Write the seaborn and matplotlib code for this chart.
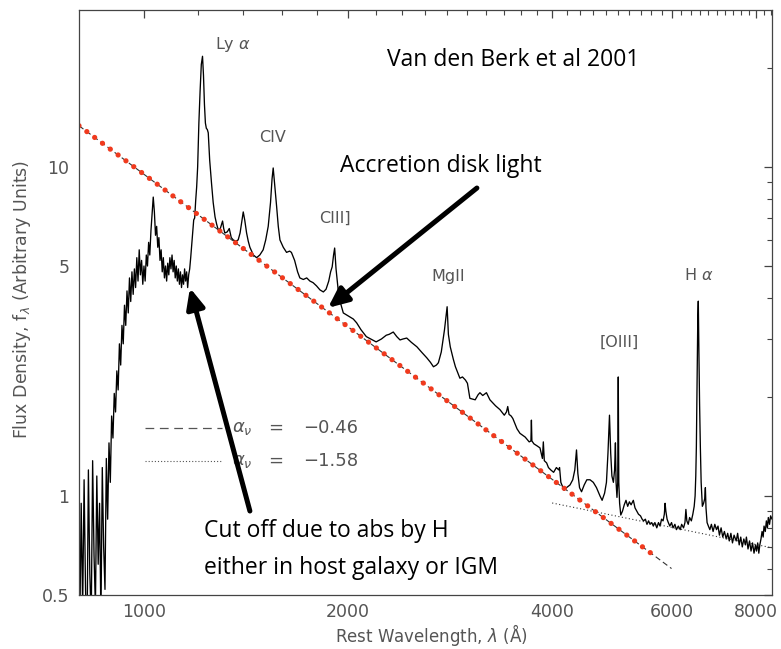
import numpy as np
import pandas as pd
import matplotlib
matplotlib.use("Agg")
import matplotlib.pyplot as plt
import seaborn as sns
from matplotlib.ticker import FixedLocator, FixedFormatter, NullFormatter

# ---------------- data ----------------
# Lyman-alpha forest / absorbed region (Angstrom, arbitrary flux)
lam_uv = [800, 804, 808, 812, 816, 820, 824, 828, 832, 836, 840, 844, 848, 852, 856,
          860, 864, 868, 872, 876, 880, 884, 888, 892, 896, 900, 904, 908, 912, 916,
          920, 924, 928, 932, 936, 940, 944, 948, 952, 956, 960, 964, 968, 972, 976,
          980, 984, 988, 992, 996, 1000, 1004, 1008, 1012, 1016, 1020, 1024, 1028,
          1032, 1036, 1040, 1044, 1048, 1052, 1056, 1060, 1064, 1068, 1072, 1076,
          1080, 1084, 1088, 1092, 1096, 1100, 1104, 1108, 1112, 1116, 1120, 1124,
          1128, 1132, 1136, 1140, 1144, 1148, 1152, 1156, 1160, 1164, 1168, 1172,
          1176, 1180, 1184, 1188, 1192, 1196]
flux_uv = [0.62, 0.38, 0.95, 0.45, 1.12, 0.52, 0.35, 1.20, 0.58, 0.42, 1.28, 0.66, 0.46,
           1.15, 0.62, 0.95, 0.42, 1.22, 0.70, 0.52, 1.30, 0.85, 1.45, 1.10, 1.75, 1.50,
           2.05, 1.80, 2.40, 2.10, 2.90, 2.50, 3.30, 2.90, 3.80, 3.30, 4.20, 3.60, 4.60,
           3.90, 4.80, 4.10, 4.90, 4.30, 5.30, 4.50, 5.60, 4.70, 5.20, 4.40, 5.00, 4.50,
           5.40, 5.00, 5.90, 5.40, 6.40, 7.20, 8.10, 7.30, 6.20, 6.60, 5.70, 6.10, 5.20,
           5.60, 4.80, 5.30, 4.60, 5.00, 4.50, 5.10, 4.70, 5.30, 4.90, 5.40, 4.80, 5.20,
           4.60, 5.00, 4.50, 4.90, 4.40, 4.80, 4.30, 4.70, 4.40, 4.90, 4.50, 4.80, 4.30,
           4.70, 4.90, 5.30, 5.80, 6.30, 6.90, 7.00, 7.90, 8.70]

# Broad emission line region
lam_mid = [1200, 1205, 1210, 1215, 1220, 1224, 1228, 1232, 1236, 1240, 1244, 1250, 1258,
           1265, 1273, 1280, 1287, 1296, 1306, 1311, 1316, 1327, 1336, 1345, 1354, 1366,
           1377, 1386, 1394, 1401, 1408, 1417, 1425, 1433, 1450, 1466, 1482, 1499, 1512,
           1525, 1537, 1545, 1551, 1557, 1569, 1578, 1587, 1605, 1623, 1640, 1650, 1668,
           1685, 1698, 1718, 1738, 1757, 1776, 1797, 1818, 1839, 1856, 1873, 1885, 1895,
           1904, 1911, 1920, 1934, 1950, 1968, 1990, 2013, 2036, 2059, 2090, 2128, 2160,
           2200, 2240, 2277, 2300, 2332, 2360, 2386, 2410, 2441, 2480, 2527, 2570, 2613,
           2645, 2673, 2700, 2718, 2745, 2775, 2800, 2812, 2830, 2860, 2880, 2924, 2950,
           2980, 3000, 3025, 3080, 3110, 3130, 3160, 3200, 3238, 3300, 3350, 3400, 3425,
           3440, 3455, 3480, 3500, 3550, 3586, 3650, 3700, 3722, 3728, 3734, 3760, 3800,
           3838, 3870, 3882, 3895, 3926, 3950, 3981, 4020, 4058, 4090, 4102, 4120, 4165,
           4200, 4250, 4290, 4320, 4345, 4365, 4390, 4420, 4460, 4500, 4549, 4600, 4650,
           4706, 4740, 4780, 4810, 4835, 4860, 4880, 4900, 4925, 4945, 4959, 4970, 4985,
           4998, 5007, 5016, 5030]
flux_mid = [10.0, 13.6, 17.0, 20.5, 21.7, 19.0, 15.5, 13.6, 13.1, 13.0, 12.7, 10.5, 8.9,
            7.8, 7.05, 6.7, 6.44, 6.5, 6.85, 6.5, 6.3, 6.35, 6.5, 6.1, 6.0, 5.95,
            6.0, 6.3, 6.8, 7.3, 6.9, 6.3, 5.95, 5.7, 5.4, 5.3, 5.4, 5.6, 6.0,
            6.6, 7.8, 9.2, 9.93, 9.1, 7.6, 6.6, 6.0, 5.7, 5.5, 5.55, 5.5, 5.2,
            4.8, 4.6, 4.55, 4.6, 4.5, 4.45, 4.35, 4.23, 4.17, 4.25, 4.5, 4.8, 4.97,
            5.4, 5.67, 4.9, 4.23, 3.85, 3.6, 3.55, 3.5, 3.45, 3.36, 3.2, 3.05, 3.0,
            2.94, 3.0, 3.08, 3.1, 3.15, 3.05, 2.98, 3.0, 3.02, 2.93, 2.84, 2.73, 2.63,
            2.55, 2.47, 2.5, 2.54, 2.74, 3.2, 3.76, 3.1, 2.84, 2.6, 2.47, 2.28, 2.3,
            2.25, 2.2, 1.98, 1.96, 2.03, 2.06, 2.02, 2.06, 1.96, 1.88, 1.83, 1.76, 1.8,
            1.87, 1.77, 1.75, 1.72, 1.6, 1.55, 1.51, 1.46, 1.47, 1.70, 1.47, 1.44, 1.42,
            1.40, 1.30, 1.46, 1.28, 1.26, 1.22, 1.2, 1.18, 1.22, 1.2, 1.22, 1.1, 1.04,
            1.06, 1.08, 1.12, 1.2, 1.38, 1.17, 1.06, 1.03, 1.08, 1.12, 1.12, 1.1, 1.06,
            1.0, 0.97, 1.02, 1.1, 1.35, 1.76, 1.35, 1.15, 1.1, 1.2, 1.45, 1.1, 0.99,
            1.1, 2.3, 1.1, 0.95]

# Red / optical region
lam_red = [5050, 5080, 5110, 5140, 5170, 5200, 5230, 5270, 5300, 5330, 5363, 5400, 5430,
           5457, 5490, 5520, 5550, 5578, 5610, 5640, 5670, 5707, 5740, 5771, 5800, 5830,
           5855, 5870, 5885, 5910, 5935, 5965, 6000, 6030, 6069, 6100, 6140, 6180, 6210,
           6250, 6280, 6300, 6320, 6350, 6380, 6418, 6450, 6480, 6500, 6515, 6528, 6540,
           6550, 6560, 6571, 6578, 6585, 6600, 6617, 6635, 6662, 6690, 6715, 6731, 6745,
           6770, 6800, 6834, 6870, 6910, 6950, 6990, 7026, 7060, 7100, 7140, 7180, 7225,
           7260, 7300, 7340, 7380, 7420, 7474, 7510, 7550, 7590, 7630, 7670, 7710, 7737,
           7780, 7820, 7860, 7900, 7940, 7980, 8007, 8040, 8070, 8098, 8130, 8160, 8190,
           8215, 8250, 8280, 8310, 8335, 8370, 8400, 8440]
flux_red = [0.875, 0.90, 0.94, 0.97, 0.93, 0.96, 0.94, 0.97, 0.92, 0.90, 0.88, 0.87, 0.85,
            0.84, 0.85, 0.82, 0.84, 0.82, 0.83, 0.81, 0.83, 0.80, 0.83, 0.81, 0.85, 0.84,
            0.88, 0.95, 0.90, 0.85, 0.83, 0.81, 0.83, 0.80, 0.82, 0.79, 0.81, 0.79, 0.82,
            0.80, 0.83, 0.91, 0.84, 0.82, 0.86, 0.84, 0.88, 0.93, 1.0, 1.15, 1.41, 2.0,
            2.84, 3.5, 3.91, 3.2, 2.7, 1.9, 1.41, 1.1, 0.93, 0.95, 0.98, 1.06, 0.92,
            0.83, 0.81, 0.79, 0.82, 0.78, 0.82, 0.79, 0.81, 0.76, 0.80, 0.75, 0.78, 0.74,
            0.77, 0.73, 0.77, 0.72, 0.76, 0.73, 0.77, 0.71, 0.75, 0.70, 0.74, 0.71, 0.75,
            0.69, 0.73, 0.68, 0.72, 0.67, 0.71, 0.68, 0.72, 0.67, 0.71, 0.74, 0.78, 0.75,
            0.81, 0.78, 0.84, 0.80, 0.86, 0.82, 0.87, 0.85]

# Power-law continua: alpha_nu, reference wavelength & flux, drawn range
alpha_nu = [-0.46, -1.58]
pl_ref_lam = [1000.0, 4000.0]
pl_ref_flux = [9.5, 0.952]
pl_lam_range = [(802.0, 6000.0), (4000.0, 8440.0)]
red_fit_range = (802.0, 5710.0)

line_labels = ["Ly $\\alpha$", "CIV", "CIII]", "MgII", "H $\\alpha$", "[OIII]"]
line_label_lam = [1353, 1549, 1913, 2809, 6585, 5019]
line_label_flux = [23.5, 12.25, 7.0, 4.66, 4.7, 2.94]

x_major = [1000, 2000, 4000, 6000, 8000]
x_minor = [v for v in range(1200, 8401, 200) if v not in x_major]
y_major = [0.5, 1, 5, 10]
y_major_labels = ["0.5", "1", "5", "10"]
y_minor = [0.6, 0.7, 0.8, 0.9, 2, 3, 4, 6, 7, 8, 9, 20]

# ---------------- figure ----------------
sns.set_theme(style="white")
plt.rcParams["font.family"] = ["DejaVu Sans"]
plt.rcParams["mathtext.fontset"] = "dejavusans"

fig = plt.figure(figsize=(7.81, 6.49), dpi=100)
ax = fig.add_axes([79 / 781, 1 - 595 / 649, 693 / 781, 585 / 649])
ax.set_xscale("log")
ax.set_yscale("log")

spec = pd.DataFrame({
    "lam": lam_uv + lam_mid + lam_red,
    "flux": flux_uv + flux_mid + flux_red,
})
sns.lineplot(data=spec, x="lam", y="flux", ax=ax, color="black", lw=0.95,
             sort=False, estimator=None)


def powerlaw(lam, a, l0, f0):
    return f0 * (np.asarray(lam) / l0) ** (-(2.0 + a))


# dashed alpha = -0.46 continuum
l1 = np.array(pl_lam_range[0])
ax.plot(l1, powerlaw(l1, alpha_nu[0], pl_ref_lam[0], pl_ref_flux[0]),
        color="#333333", lw=0.8, linestyle=(0, (5, 3)))
# dotted alpha = -1.58 continuum
l2 = np.array(pl_lam_range[1])
ax.plot(l2, powerlaw(l2, alpha_nu[1], pl_ref_lam[1], pl_ref_flux[1]),
        color="#333333", lw=0.8, linestyle=(0, (1, 2.2)))
# red dotted overlay (accretion disk)
lr = np.array(red_fit_range)
ax.plot(lr, powerlaw(lr, alpha_nu[0], pl_ref_lam[0], pl_ref_flux[0]),
        color="#f03a1e", lw=3.8, linestyle=(0, (0.001, 1.85)),
        dash_capstyle="round", solid_capstyle="round")

# legend-like keys
ax.plot([1003, 1303], [1.61, 1.61], color="#555555", lw=0.9, linestyle=(0, (7, 4.5)))
ax.plot([1003, 1303], [1.277, 1.277], color="#555555", lw=0.8, linestyle=(0, (1, 1.8)))
leg_col = "#555555"
for yv, val in zip([1.61, 1.277], alpha_nu):
    ax.text(1348, yv, r"$\alpha_\nu$", color=leg_col, fontsize=13, va="center", ha="left")
    ax.text(1565, yv, "=", color=leg_col, fontsize=13, va="center", ha="center")
    ax.text(1716, yv, f"\u2212{abs(val):.2f}", color=leg_col, fontsize=13,
            va="center", ha="left")

# emission line labels
for t, lx, fy in zip(line_labels, line_label_lam, line_label_flux):
    ax.text(lx, fy, t, color="#555555", fontsize=11.5, ha="center", va="center")

# annotations
afont = dict(family=["Open Sans", "DejaVu Sans"], fontsize=16.5, color="black")
ax.text(3500, 21.2, "Van den Berk et al 2001", ha="center", va="center", **afont)
ax.text(1945, 10.07, "Accretion disk light", ha="left", va="center", **afont)
ax.text(1226, 0.783, "Cut off due to abs by H", ha="left", va="center", **afont)
ax.text(1226, 0.604, "either in host galaxy or IGM", ha="left", va="center", **afont)

arrow_kw = dict(arrowstyle="-|>,head_length=1.0,head_width=0.45", color="black",
                lw=3.6, shrinkA=0, shrinkB=0)
ax.annotate("", xy=(1868, 3.73), xytext=(3098, 8.63), arrowprops=arrow_kw)
ax.annotate("", xy=(1169, 4.29), xytext=(1433, 0.90), arrowprops=arrow_kw)

# axes limits & ticks
ax.set_xlim(802, 8440)
ax.set_ylim(0.5, 30)
ax.xaxis.set_major_locator(FixedLocator(x_major))
ax.xaxis.set_major_formatter(FixedFormatter([str(v) for v in x_major]))
ax.xaxis.set_minor_locator(FixedLocator(x_minor))
ax.xaxis.set_minor_formatter(NullFormatter())
ax.yaxis.set_major_locator(FixedLocator(y_major))
ax.yaxis.set_major_formatter(FixedFormatter(y_major_labels))
ax.yaxis.set_minor_locator(FixedLocator(y_minor))
ax.yaxis.set_minor_formatter(NullFormatter())

tick_col = "#555555"
ax.tick_params(which="both", direction="in", top=True, right=True,
               color="#444444", labelcolor=tick_col, labelsize=12.5)
ax.tick_params(which="major", length=6, width=0.9)
ax.tick_params(which="minor", length=3.5, width=0.8)
ax.tick_params(axis="x", which="major", pad=6)
ax.tick_params(axis="y", which="major", pad=7)
for s in ax.spines.values():
    s.set_color("#444444")
    s.set_linewidth(0.9)

ax.set_xlabel(r"Rest Wavelength, $\lambda$ (Å)", color=tick_col, fontsize=12)
ax.set_ylabel(r"Flux Density, $\mathrm{f}_\lambda$ (Arbitrary Units)", color=tick_col,
              fontsize=12.5)
ax.xaxis.set_label_coords(0.508, -0.046)
ax.yaxis.set_label_coords(-0.067, 0.505)

fig.savefig("out.png", dpi=100, facecolor="white")
